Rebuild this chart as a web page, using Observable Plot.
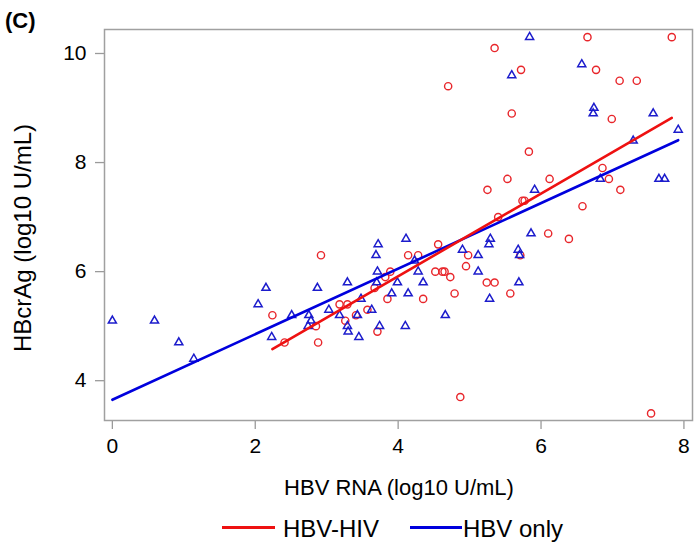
<!DOCTYPE html>
<html>
<head>
<meta charset="utf-8">
<script src="https://cdn.jsdelivr.net/npm/d3@7"></script>
<script src="https://cdn.jsdelivr.net/npm/@observablehq/plot@0.6"></script>
<style>
  body { margin: 0; background: #fff; font-family: "Liberation Sans", Arial, sans-serif; }
  #wrap { position: relative; width: 700px; height: 546px; overflow: hidden; background: #fff; }
  #wrap svg { position: absolute; left: 0; top: 0; }
  .lbl { position: absolute; white-space: nowrap; line-height: 1; color: #000; }
  #title { left: 5px; top: 10px; font-size: 22px; font-weight: bold; }
  #xlab { left: 399px; top: 477px; font-size: 22px; transform: translateX(-50%); }
  #ylab { left: 23px; top: 238px; font-size: 24px; transform: translate(-50%, -50%) rotate(-90deg); }
  .sw { position: absolute; height: 3px; }
  .lg { position: absolute; top: 517px; font-size: 24px; line-height: 1; white-space: nowrap; }
</style>
</head>
<body>
<div id="wrap">
  <div id="chart"></div>
  <div class="lbl" id="title">(C)</div>
  <div class="lbl" id="xlab">HBV RNA (log10 U/mL)</div>
  <div class="lbl" id="ylab">HBcrAg (log10 U/mL)</div>
  <div class="sw" style="left:222px;top:526px;width:53px;background:#ee1111"></div>
  <div class="lg" style="left:283px">HBV-HIV</div>
  <div class="sw" style="left:410px;top:526px;width:52px;background:#0000dd"></div>
  <div class="lg" style="left:463px">HBV only</div>
</div>
<script>
// HBV-HIV co-infected (red circles)
const hivX = [2.24, 2.41, 2.85, 2.92, 2.88, 3.18, 3.29, 3.26, 3.41, 3.57, 3.67, 3.82, 3.89, 3.85, 3.71,
  4.56, 4.14, 4.28, 4.98, 4.95, 4.52, 4.62, 4.65, 4.73, 5.24, 5.35, 4.35, 4.79, 5.57, 5.71,
  4.87, 7.54, 5.25, 7.11, 6.58, 5.74, 5.77, 5.40, 6.10, 6.39, 6.65, 7.83, 5.35, 5.72, 6.77,
  7.10, 7.34, 4.70, 5.59, 6.99, 5.83, 6.86, 6.95, 5.53, 6.12];
const hivY = [5.2, 4.7, 5.0, 6.3, 4.7, 5.4, 5.4, 5.1, 5.2, 5.3, 5.7, 5.9, 6.0, 5.5, 4.9,
  6.5, 6.3, 6.3, 6.3, 6.1, 6.0, 6.0, 6.0, 5.9, 5.8, 5.8, 5.5, 5.6, 5.6, 6.3,
  3.7, 3.4, 7.5, 7.5, 7.2, 7.3, 7.3, 7.0, 6.7, 6.6, 10.3, 10.3, 10.1, 9.7, 9.7,
  9.5, 9.5, 9.4, 8.9, 8.8, 8.2, 7.9, 7.7, 7.7, 7.7];

// HBV mono-infected (blue triangles)
const monoX = [0.00, 0.59, 0.93, 1.14, 2.04, 2.15, 2.23, 2.51, 2.75, 2.78, 2.74, 2.87, 3.03, 3.18,
  3.29, 3.29, 3.30, 3.43, 3.45, 3.48, 3.63, 3.72, 3.69, 3.71, 3.70, 3.91, 3.74, 3.99, 4.11,
  4.23, 4.28, 4.35, 4.14, 4.66, 4.10, 4.90, 5.12, 5.12, 5.29, 5.27, 5.28, 5.68, 5.70, 5.69,
  5.86, 5.91, 5.84, 6.57, 5.59, 6.74, 6.73, 7.57, 7.92, 7.29, 6.83, 7.65, 7.73];
const monoY = [5.1, 5.1, 4.7, 4.4, 5.4, 5.7, 4.8, 5.2, 5.2, 5.1, 5.0, 5.7, 5.3, 5.2,
  5.8, 5.0, 4.9, 5.2, 4.8, 5.5, 5.3, 6.5, 6.3, 6.0, 5.8, 5.6, 5.0, 5.8, 6.6,
  6.2, 6.0, 5.8, 5.6, 5.2, 5.0, 6.4, 6.3, 6.0, 6.6, 6.5, 5.5, 6.4, 6.3, 5.8,
  6.7, 7.5, 10.3, 9.8, 9.6, 9.0, 8.9, 8.9, 8.6, 8.4, 7.7, 7.7, 7.7];

// fitted regression lines (end points)
const fitHivX = [2.24, 7.83], fitHivY = [4.58, 8.82];
const fitMonoX = [0.00, 7.92], fitMonoY = [3.65, 8.41];

const xTicks = [0, 2, 4, 6, 8];
const yTicks = [4, 6, 8, 10];

const hiv = hivX.map((x, i) => ({x, y: hivY[i]}));
const mono = monoX.map((x, i) => ({x, y: monoY[i]}));
const fitHiv = fitHivX.map((x, i) => ({x, y: fitHivY[i]}));
const fitMono = fitMonoX.map((x, i) => ({x, y: fitMonoY[i]}));

const chart = Plot.plot({
  width: 700,
  height: 546,
  marginLeft: 104,
  marginRight: 8,
  marginTop: 29,
  marginBottom: 126,
  style: {fontFamily: "'Liberation Sans', Arial, sans-serif", color: "#000", background: "transparent"},
  x: {domain: [-0.11, 8.12]},
  y: {domain: [3.27, 10.44]},
  marks: [
    Plot.axisX({ticks: xTicks, tickSize: 9, tickPadding: 9, fontSize: 21, stroke: "#9a9a9a", strokeWidth: 1.3, label: null}),
    Plot.axisY({ticks: yTicks, tickSize: 9, tickPadding: 9, fontSize: 21, stroke: "#9a9a9a", strokeWidth: 1.3, label: null}),
    Plot.frame({stroke: "#a0a0a0", strokeWidth: 1.5}),
    Plot.dot(hiv, {x: "x", y: "y", r: 3.6, stroke: "#e8262b", strokeWidth: 1.4, fill: "none"}),
    Plot.dot(mono, {x: "x", y: "y", symbol: "triangle", r: 3.0, stroke: "#1c1ccc", strokeWidth: 1.5, fill: "none"}),
    Plot.line(fitMono, {x: "x", y: "y", stroke: "#0000dd", strokeWidth: 2.6}),
    Plot.line(fitHiv, {x: "x", y: "y", stroke: "#ee1111", strokeWidth: 2.6})
  ]
});
document.getElementById("chart").appendChild(chart);
</script>
</body>
</html>
